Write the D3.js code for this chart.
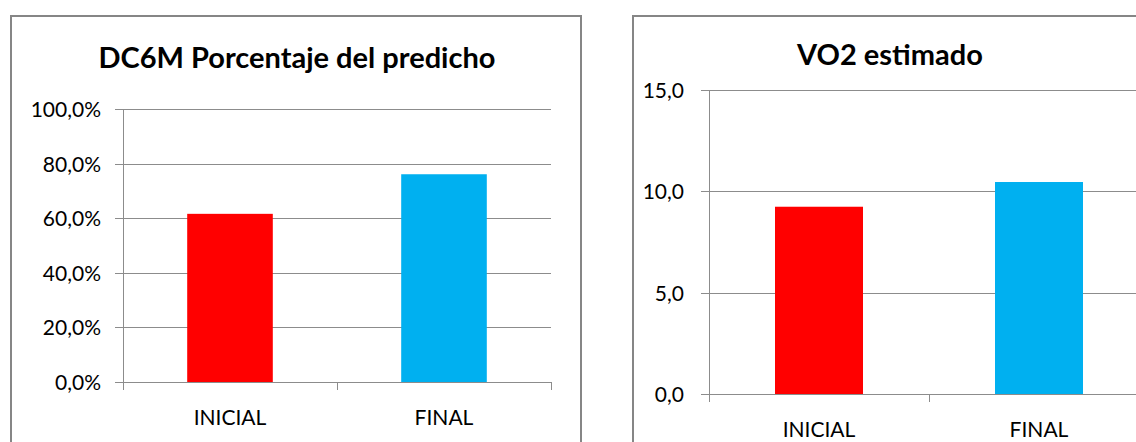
<!DOCTYPE html>
<html>
<head>
<meta charset="utf-8">
<script src="https://cdn.jsdelivr.net/npm/d3@7"></script>
<style>
  body { margin: 0; background: #fff; }
  svg text { font-family: Lato, "Open Sans", sans-serif; fill: #000; }
</style>
</head>
<body>
<svg id="chart" width="1136" height="442"></svg>
<script>
// chart data
var categories = ["INICIAL", "FINAL"];
var dc6mValues = [61.6, 76.1];
var dc6mTicks = [0, 20, 40, 60, 80, 100];
var vo2Values = [9.24, 10.46];
var vo2Ticks = [0, 5, 10, 15];
var barColors = ["#ff0000", "#00b0f0"];

var svg = d3.select("#chart");

function commaFmt(decimals, suffix){
  var f = d3.format("." + decimals + "f");
  return function(v){ return f(v).replace(".", ",") + suffix; };
}

function barChart(opt){
  // frame
  svg.append("rect")
    .attr("x", opt.frame[0]).attr("y", opt.frame[1])
    .attr("width", opt.frame[2]).attr("height", opt.frame[3])
    .attr("fill", "#fff").attr("stroke", "#868686").attr("stroke-width", 2);

  svg.append("text")
    .attr("x", opt.titleX).attr("y", opt.titleY)
    .attr("text-anchor", "middle")
    .style("font-size", "29px").style("font-weight", "bold")
    .text(opt.title);

  var x = d3.scaleBand().domain(categories).range([opt.left, opt.right]);
  var y = d3.scaleLinear().domain([0, opt.max]).range([opt.bottom, opt.top]);
  var g = svg.append("g");

  // gridlines
  g.selectAll(".grid").data(opt.ticks).enter().append("line")
    .attr("x1", opt.left).attr("x2", opt.right)
    .attr("y1", function(d){ return Math.round(y(d)) + 0.5; })
    .attr("y2", function(d){ return Math.round(y(d)) + 0.5; })
    .attr("stroke", "#8c8c8c");

  // bars
  var bw = x.bandwidth() * 0.4;
  g.selectAll(".bar").data(opt.values).enter().append("rect")
    .attr("x", function(d, i){ return x(categories[i]) + (x.bandwidth() - bw) / 2; })
    .attr("y", function(d){ return y(d); })
    .attr("width", bw)
    .attr("height", function(d){ return y(0) - y(d); })
    .attr("fill", function(d, i){ return barColors[i]; });

  // y axis line + ticks
  g.append("line")
    .attr("x1", opt.left + 0.5).attr("x2", opt.left + 0.5)
    .attr("y1", y(opt.max)).attr("y2", y(0) + 8)
    .attr("stroke", "#8c8c8c");
  g.selectAll(".ytick").data(opt.ticks).enter().append("line")
    .attr("x1", opt.left - 8).attr("x2", opt.left)
    .attr("y1", function(d){ return Math.round(y(d)) + 0.5; })
    .attr("y2", function(d){ return Math.round(y(d)) + 0.5; })
    .attr("stroke", "#8c8c8c");
  g.selectAll(".ylab").data(opt.ticks).enter().append("text")
    .attr("x", opt.labelX)
    .attr("y", function(d){ return y(d) + 8; })
    .attr("text-anchor", "end")
    .style("font-size", "21px")
    .text(opt.fmt);

  // category ticks at band edges
  var edges = categories.map(function(c){ return x(c); }).concat([opt.right]);
  g.selectAll(".xtick").data(edges.slice(1)).enter().append("line")
    .attr("x1", function(d){ return Math.round(d) + 0.5; })
    .attr("x2", function(d){ return Math.round(d) + 0.5; })
    .attr("y1", y(0)).attr("y2", y(0) + 8)
    .attr("stroke", "#8c8c8c");
  g.selectAll(".xlab").data(categories).enter().append("text")
    .attr("x", function(d){ return x(d) + x.bandwidth() / 2; })
    .attr("y", y(0) + 43)
    .attr("text-anchor", "middle")
    .style("font-size", "21px")
    .text(function(d){ return d; });
}

barChart({
  frame: [11, 16, 570, 460],
  title: "DC6M Porcentaje del predicho", titleX: 297, titleY: 68,
  left: 123, right: 551, top: 109, bottom: 382, max: 100,
  ticks: dc6mTicks, values: dc6mValues, labelX: 101,
  fmt: commaFmt(1, "%")
});

barChart({
  frame: [633, 16, 515, 460],
  title: "VO2 estimado", titleX: 890, titleY: 65,
  left: 709, right: 1149, top: 90, bottom: 394, max: 15,
  ticks: vo2Ticks, values: vo2Values, labelX: 684,
  fmt: commaFmt(1, "")
});
</script>
</body>
</html>
